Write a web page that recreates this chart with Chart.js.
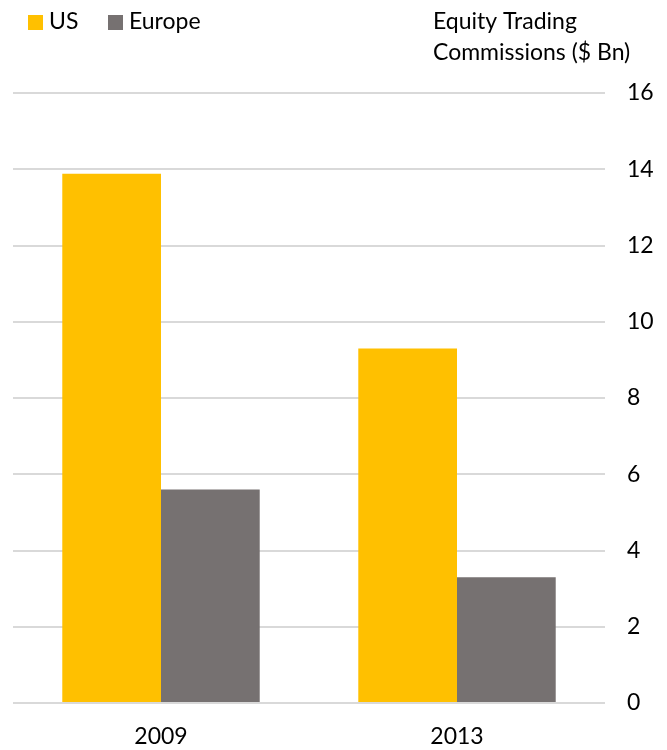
<!DOCTYPE html>
<html><head><meta charset="utf-8">
<script src="https://cdn.jsdelivr.net/npm/chart.js@4"></script>
<style>html,body{margin:0;padding:0;background:#fff}#wrap{width:667px;height:750px;position:relative}</style>
</head><body><div id="wrap"><canvas id="c" width="667" height="750"></canvas></div>
<script>
const categories = ["2009", "2013"];
const usValues = [13.88, 9.3];
const europeValues = [5.6, 3.3];
const yTicks = [0, 2, 4, 6, 8, 10, 12, 14, 16];
const titleLines = ["Equity Trading", "Commissions ($ Bn)"];

const FONT = "Lato, 'Open Sans', sans-serif";

const titlePlugin = {
  id: 'titleText',
  afterDraw(chart) {
    const ctx = chart.ctx;
    ctx.save();
    ctx.font = "23px " + FONT;
    ctx.fillStyle = "#000";
    ctx.textBaseline = "middle";
    ctx.textAlign = "left";
    ctx.fillText(titleLines[0], 433, 22);
    ctx.fillText(titleLines[1], 433, 53);
    // legend built from the chart's datasets
    const legendX = [28, 108];
    chart.data.datasets.forEach((ds, i) => {
      const x = legendX[i];
      ctx.fillStyle = ds.backgroundColor;
      ctx.fillRect(x, 15, 15, 15);
      ctx.fillStyle = "#000";
      ctx.fillText(ds.label, x + 21, 22);
    });
    ctx.restore();
  }
};

new Chart(document.getElementById('c'), {
  type: 'bar',
  data: {
    labels: categories,
    datasets: [
      { label: 'US', data: usValues, backgroundColor: '#FFC000', categoryPercentage: 0.667, barPercentage: 1.0 },
      { label: 'Europe', data: europeValues, backgroundColor: '#767171', categoryPercentage: 0.667, barPercentage: 1.0 }
    ]
  },
  options: {
    responsive: false,
    animation: false,
    layout: { padding: { left: 13, right: 0, top: 93, bottom: 0 } },
    plugins: {
      legend: { display: false },
      tooltip: { enabled: false },
      title: { display: false }
    },
    scales: {
      x: {
        grid: { display: false },
        border: { display: false },
        ticks: { color: '#000', font: { size: 23, family: FONT }, padding: 12 },
        afterFit(s) { s.height = 47; }
      },
      y: {
        position: 'right',
        min: 0, max: 16,
        afterBuildTicks(s) { s.ticks = yTicks.map(v => ({ value: v })); },
        grid: { color: '#d9d9d9', lineWidth: 2, drawTicks: false },
        border: { display: false },
        ticks: { color: '#000', font: { size: 23, family: FONT }, padding: 22 },
        afterFit(s) { s.width = 62; }
      }
    }
  },
  plugins: [titlePlugin]
});
</script>
</body></html>
